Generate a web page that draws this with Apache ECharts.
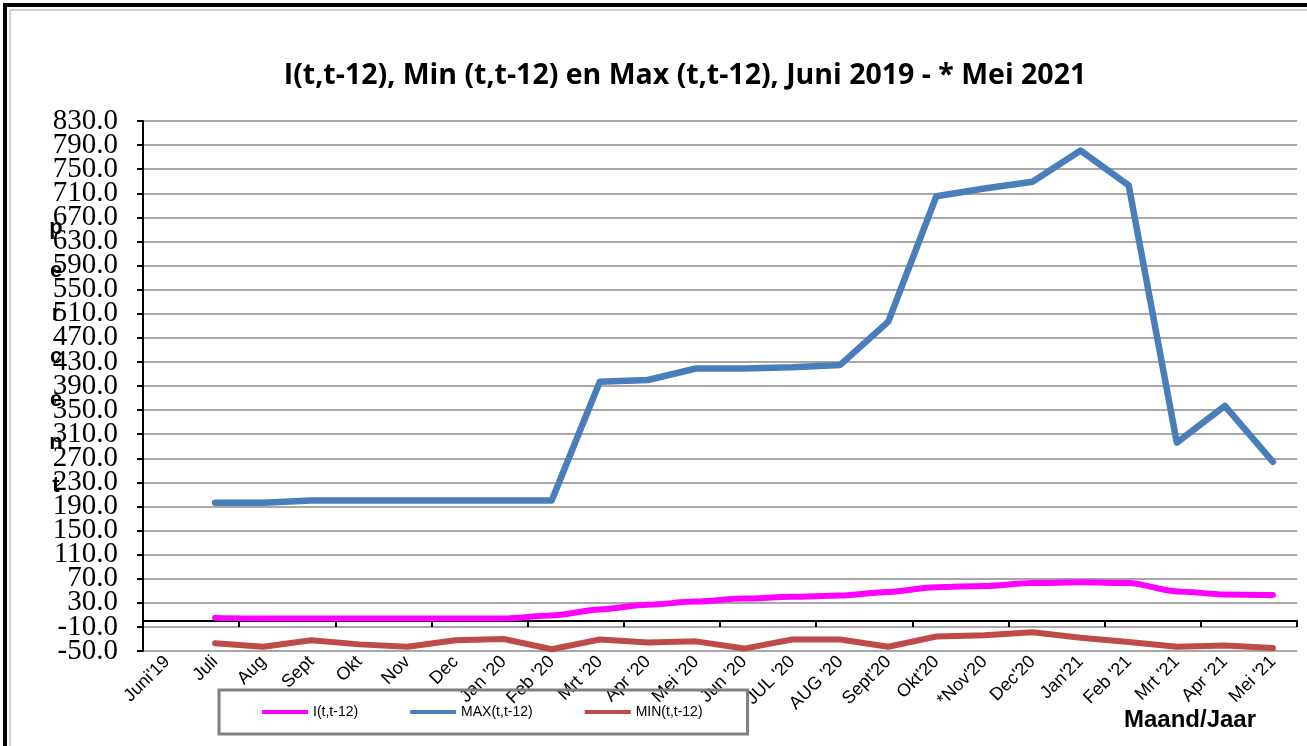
<!DOCTYPE html>
<html><head><meta charset="utf-8">
<script src="https://cdn.jsdelivr.net/npm/echarts@6/dist/echarts.min.js"></script>
<style>html,body{margin:0;padding:0;background:#fff}#c{width:1307px;height:746px}</style>
</head><body><div id="c"></div>
<script>
const categories = ["Juni'19","Juli","Aug","Sept","Okt","Nov","Dec","Jan '20","Feb '20","Mrt '20","Apr '20","Mei '20","Jun '20","JUL '20","AUG '20","Sept'20","Okt'20","*Nov'20","Dec'20","Jan'21","Feb '21","Mrt '21","Apr '21","Mei '21"];
const seriesI   = [null, 5, 4, 4, 4, 4, 4, 4, 9, 19, 27, 32, 37, 40, 42, 48, 56, 58, 63, 64, 63, 49, 44, 43];
const seriesMax = [null, 196, 196, 200, 200, 200, 200, 200, 200, 397, 400, 419, 419, 421, 425, 497, 705, 718, 729, 781, 723, 296, 357, 264];
const seriesMin = [null, -37, -43, -32, -39, -43, -32, -30, -47, -31, -36, -34, -46, -31, -31, -43, -26, -24, -19, -28, -35, -43, -41, -45];
const yTicks = [-50, -10, 30, 70, 110, 150, 190, 230, 270, 310, 350, 390, 430, 470, 510, 550, 590, 630, 670, 710, 750, 790, 830];
const seriesNames = ['I(t,t-12)', 'MAX(t,t-12)', 'MIN(t,t-12)'];
const titleText = 'I(t,t-12), Min (t,t-12) en Max (t,t-12), Juni 2019 - * Mei 2021';
const yAxisTitle = 'percent';
const xAxisTitle = 'Maand/Jaar';

// labels split over two stacked axes so that no label gets auto-hidden
const yLabelsA = yTicks.filter((v, i) => i % 2 === 0);
const yLabelsB = yTicks.filter((v, i) => i % 2 === 1);

const chart = echarts.init(document.getElementById('c'), null, {renderer: 'canvas'});
const lineBase = {type: 'line', showSymbol: false, symbol: 'none', connectNulls: false, animation: false, yAxisIndex: 0, xAxisIndex: 0};
const yLabelStyle = {formatter: v => Number(v).toFixed(1), margin: 25,
  fontFamily: 'Liberation Serif', fontSize: 29, color: '#000'};
chart.setOption({
  animation: false,
  backgroundColor: '#fff',
  title: {text: titleText, left: 680, top: 56, textAlign: 'center',
    textStyle: {fontFamily: 'Open Sans', fontWeight: 'bold', fontSize: 28.5, color: '#000'}},
  legend: {
    data: seriesNames, left: 219, top: 690, orient: 'horizontal',
    padding: [15, 45, 15, 43], itemGap: 52, itemWidth: 46, itemHeight: 4, icon: 'rect',
    borderColor: '#808080', borderWidth: 3, backgroundColor: 'transparent',
    textStyle: {fontFamily: 'Liberation Sans', fontSize: 14, color: '#000'}
  },
  grid: {left: 143, right: 10, top: 121, bottom: 95, containLabel: false},
  xAxis: [
    {type: 'category', data: categories, boundaryGap: true, position: 'bottom',
     axisLine: {show: false, onZero: false}, axisTick: {show: false}, splitLine: {show: false},
     axisLabel: {interval: 0, rotate: 45, margin: 8, fontFamily: 'Liberation Sans', fontSize: 18, color: '#000'}},
    {type: 'category', data: categories, boundaryGap: true, position: 'bottom',
     axisLine: {show: true, onZero: true, onZeroAxisIndex: 0, lineStyle: {color: '#000', width: 2}},
     axisTick: {show: true, length: 6, lineStyle: {color: '#000', width: 2}},
     axisLabel: {show: false}, splitLine: {show: false}}
  ],
  yAxis: [
    {type: 'value', min: -50, max: 830, position: 'left',
     axisLine: {show: true, onZero: false, lineStyle: {color: '#000', width: 2}},
     axisTick: {show: true, length: 6, customValues: yTicks, lineStyle: {color: '#000', width: 2}},
     axisLabel: Object.assign({customValues: yLabelsA, showMinLabel: true, showMaxLabel: true}, yLabelStyle),
     splitLine: {show: true, showMinLine: true, showMaxLine: true, lineStyle: {color: '#a8a8a8', width: 2}}},
    {type: 'value', min: -50, max: 830, position: 'left',
     axisLine: {show: false, onZero: false}, axisTick: {show: false, customValues: yLabelsB},
     axisLabel: Object.assign({customValues: yLabelsB, showMinLabel: true, showMaxLabel: true}, yLabelStyle),
     splitLine: {show: false}}
  ],
  series: [
    Object.assign({}, lineBase, {name: seriesNames[0], data: seriesI, smooth: 0.3, smoothMonotone: 'x',
      itemStyle: {color: '#ff00ff'}, lineStyle: {color: '#ff00ff', width: 6, cap: 'round', join: 'round'}}),
    Object.assign({}, lineBase, {name: seriesNames[1], data: seriesMax,
      itemStyle: {color: '#4a7ebb'}, lineStyle: {color: '#4a7ebb', width: 6.5, cap: 'round', join: 'round'}}),
    Object.assign({}, lineBase, {name: seriesNames[2], data: seriesMin,
      itemStyle: {color: '#be4b48'}, lineStyle: {color: '#be4b48', width: 6, cap: 'round', join: 'round'}})
  ],
  graphic: [
    {type: 'rect', silent: true, shape: {x: 5, y: 5, width: 1310, height: 760},
     style: {fill: 'none', stroke: '#000', lineWidth: 4}, z: 100},
    {type: 'rect', silent: true, shape: {x: 10, y: 10, width: 1300, height: 750},
     style: {fill: 'none', stroke: '#a0a0a0', lineWidth: 1}, z: 100},
    {type: 'text', silent: true, z: 50,
     style: {text: yAxisTitle.split('').join('\n'), x: 56, y: 206, align: 'center', verticalAlign: 'top',
       lineHeight: 43, fontFamily: 'Liberation Sans', fontWeight: 'bold', fontSize: 22, fill: '#000'}},
    {type: 'text', silent: true, z: 50,
     style: {text: xAxisTitle, x: 1124, y: 708, fontFamily: 'Liberation Sans', fontWeight: 'bold', fontSize: 24, fill: '#000'}}
  ]
});
</script>
</body></html>
